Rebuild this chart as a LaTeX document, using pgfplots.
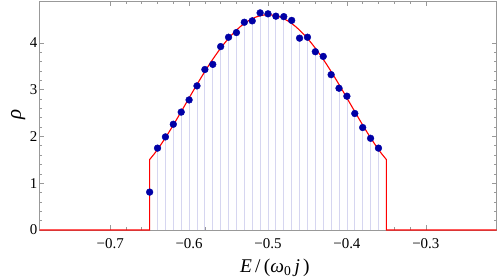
\documentclass[border=0pt]{standalone}
\usepackage{fontspec}
\setmainfont{Liberation Serif}
\usepackage{pgfplots}
\pgfplotsset{compat=1.18}
\definecolor{framegray}{rgb}{0.6,0.6,0.6}
\definecolor{stickcol}{rgb}{0.84,0.84,0.94}
\definecolor{dotblue}{rgb}{0,0,0.65}
\begin{document}
\begin{tikzpicture}
\begin{axis}[
  scale only axis,
  width=457bp, height=228.8bp,
  xmin=-0.7896, xmax=-0.2104,
  ymin=0, ymax=4.89,
  clip=false,
  axis line style={framegray, line width=0.8bp},
  xtick={-0.7,-0.6,-0.5,-0.4,-0.3},
  xticklabels={−0.7,−0.6,−0.5,−0.4,−0.3},
  ytick={0,1,2,3,4},
  yticklabels={0,1,2,3,4},
  minor x tick num=4,
  minor y tick num=4,
  tick align=inside,
  major tick length=5bp,
  minor tick length=3bp,
  tick style={framegray, line width=0.6bp},
  tick label style={font=\fontsize{15}{15}\selectfont, text=black},
  xticklabel style={anchor=base, yshift=-18bp, inner sep=0pt},
  yticklabel style={anchor=east, xshift=-2bp, inner sep=0pt},
  xlabel={\textit{E}\,/\,(\textit{ω}\textsubscript{0}\,\textit{j}\,)},
  ylabel={\textit{ρ}},
  xlabel style={at={(axis description cs:0.515,0)}, anchor=base, yshift=-42.7bp, inner sep=0pt, font=\fontsize{19.5}{19.5}\selectfont},
  ylabel style={at={(axis description cs:-0.0407,0.505)}, anchor=base, inner sep=0pt, font=\fontsize{21}{21}\selectfont},
]
\addplot[ycomb, draw=stickcol, line width=0.8bp, mark=none] coordinates {
(-0.65,0.81) (-0.64,1.75) (-0.63,1.99) (-0.62,2.26) (-0.61,2.52) (-0.60,2.78)
(-0.59,3.08) (-0.58,3.43) (-0.57,3.54) (-0.56,3.92) (-0.55,4.12) (-0.54,4.22)
(-0.53,4.44) (-0.52,4.47) (-0.51,4.64) (-0.50,4.62) (-0.49,4.57) (-0.48,4.56)
(-0.47,4.48) (-0.46,4.10) (-0.45,4.12) (-0.44,3.81) (-0.43,3.71) (-0.42,3.32)
(-0.41,3.03) (-0.40,2.86) (-0.39,2.49) (-0.38,2.19) (-0.37,1.96) (-0.36,1.75)
};
\addplot[red, line width=1.1bp, mark=none] coordinates {
(-0.7896,0) (-0.65,0) (-0.65,1.506)
(-0.645,1.609) (-0.640,1.721) (-0.635,1.843) (-0.630,1.971) (-0.625,2.105)
(-0.620,2.244) (-0.615,2.386) (-0.610,2.531) (-0.605,2.676) (-0.600,2.822)
(-0.595,2.967) (-0.590,3.110) (-0.585,3.251) (-0.580,3.388) (-0.575,3.521)
(-0.570,3.648) (-0.565,3.770) (-0.560,3.886) (-0.555,3.994) (-0.550,4.095)
(-0.545,4.188) (-0.540,4.272) (-0.535,4.348) (-0.530,4.414) (-0.525,4.470)
(-0.520,4.517) (-0.515,4.553) (-0.510,4.579) (-0.505,4.595) (-0.500,4.600)
(-0.495,4.595) (-0.490,4.579) (-0.485,4.553) (-0.480,4.517) (-0.475,4.470)
(-0.470,4.414) (-0.465,4.348) (-0.460,4.272) (-0.455,4.188) (-0.450,4.095)
(-0.445,3.994) (-0.440,3.886) (-0.435,3.770) (-0.430,3.648) (-0.425,3.521)
(-0.420,3.388) (-0.415,3.251) (-0.410,3.110) (-0.405,2.967) (-0.400,2.822)
(-0.395,2.676) (-0.390,2.531) (-0.385,2.386) (-0.380,2.244) (-0.375,2.105)
(-0.370,1.971) (-0.365,1.843) (-0.360,1.721) (-0.355,1.609) (-0.350,1.506)
(-0.35,0) (-0.2104,0)
};
\addplot[only marks, mark=*, mark size=3.4bp, dotblue, mark options={draw=dotblue, fill=dotblue}] coordinates {
(-0.65,0.81) (-0.64,1.75) (-0.63,1.99) (-0.62,2.26) (-0.61,2.52) (-0.60,2.78)
(-0.59,3.08) (-0.58,3.43) (-0.57,3.54) (-0.56,3.92) (-0.55,4.12) (-0.54,4.22)
(-0.53,4.44) (-0.52,4.47) (-0.51,4.64) (-0.50,4.62) (-0.49,4.57) (-0.48,4.56)
(-0.47,4.48) (-0.46,4.10) (-0.45,4.12) (-0.44,3.81) (-0.43,3.71) (-0.42,3.32)
(-0.41,3.03) (-0.40,2.86) (-0.39,2.49) (-0.38,2.19) (-0.37,1.96) (-0.36,1.75)
};
\end{axis}
\pgfresetboundingbox
\path ([shift={(-39.5bp,-50bp)}]current axis.south west) rectangle ([shift={(1.5bp,1.2bp)}]current axis.north east);
\end{tikzpicture}
\end{document}
